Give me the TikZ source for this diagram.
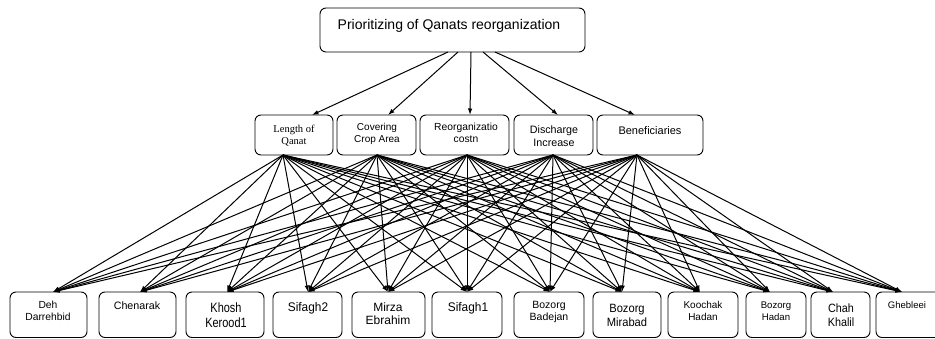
\documentclass[tikz,border=0pt]{standalone}
\usepackage{fontspec}
\setmainfont{Liberation Sans}
\newfontfamily\serifff{Liberation Serif}
\usetikzlibrary{arrows.meta}
\newcommand\fsz[3]{\fontsize{#1}{#2}\selectfont\addfontfeature{FakeStretch=#3}}
\tikzset{
  boxst/.style={draw, rounded corners=6pt, line width=0.9pt, inner sep=0pt},
  lbl/.style={align=center, inner sep=0pt, font=#1},
  arr/.style={line width=1pt, -{Latex[length=6.5pt,width=4.5pt]}}
}
\begin{document}
\begin{tikzpicture}[x=1pt,y=-1pt]
\useasboundingbox (0,0) rectangle (935,339);
\clip (0,0) rectangle (935,339);
% top
\node[boxst, minimum width=265pt, minimum height=44pt] (top) at (452.5,30) {};
\node[lbl={\fsz{14}{16}{1}}] (toptxt) at (449,26) {Prioritizing of Qanats reorganization};
% middle boxes
\node[boxst, minimum width=78pt, minimum height=40pt] (m1) at (294,135) {};
\node[boxst, minimum width=79pt, minimum height=40pt] (m2) at (376.5,135) {};
\node[boxst, minimum width=89pt, minimum height=40pt] (m3) at (464.5,135) {};
\node[boxst, minimum width=79pt, minimum height=40pt] (m4) at (553.5,135) {};
\node[boxst, minimum width=106pt, minimum height=40pt] (m5) at (650,135) {};
\node[lbl={\serifff\fsz{10.5}{12}{1}}] (m1t) at (294,136) {Length of\\Qanat};
\node[lbl={\fsz{10}{11.5}{1}}] (m2t) at (377,134) {Covering\\Crop Area};
\node[lbl={\fsz{10.3}{11.5}{1}}] (m3t) at (466,133) {Reorganizatio\\costn};
\node[lbl={\fsz{10.7}{12.5}{1}}] (m4t) at (554,136) {Discharge\\Increase};
\node[lbl={\fsz{11}{12}{1}}] (m5t) at (650,131) {Beneficiaries};
% bottom boxes
\foreach \n/\xa/\xb in {1/10/87,2/99/176,3/186/264,4/273/342,5/352/425,6/432/502,7/514/584,8/593/661,9/668/738,10/746/806,11/811/870,12/876/945}{
  \node[boxst, minimum width={\xb-\xa}, minimum height=45.5pt] (b\n) at ({(\xa+\xb)/2},314.75) {};
}
\node[lbl={\fsz{10.3}{12}{1}}] (b1t) at (48,311) {Deh\\Darrehbid};
\node[lbl={\fsz{10.7}{12}{1}}] (b2t) at (137,306) {Chenarak};
\node[lbl={\fsz{13.5}{14.5}{0.81}}] (b3t) at (226,315) {Khosh\\Kerood1};
\node[lbl={\fsz{12.5}{13}{0.95}}] (b4t) at (308,308) {Sifagh2};
\node[lbl={\fsz{12}{13}{1}}] (b5t) at (388,314) {Mirza\\Ebrahim};
\node[lbl={\fsz{12.5}{13}{0.95}}] (b6t) at (468,308) {Sifagh1};
\node[lbl={\fsz{10.5}{12}{1}}] (b7t) at (549,312) {Bozorg\\Badejan};
\node[lbl={\fsz{12}{14}{0.93}}] (b8t) at (627,315) {Bozorg\\Mirabad};
\node[lbl={\fsz{10}{11.5}{1}}] (b9t) at (703,311) {Koochak\\Hadan};
\node[lbl={\fsz{9.6}{11.5}{1}}] (b10t) at (776,311) {Bozorg\\Hadan};
\node[lbl={\fsz{12}{14.5}{0.9}}] (b11t) at (841,315) {Chah\\Khalil};
\node[lbl={\fsz{9.5}{11}{1}}] (b12t) at (907,305) {Ghebleei};
% ports
\foreach \i/\x in {1/448,2/458,3/471,4/483,5/495}{\coordinate (ts\i) at (\x,52);}
\foreach \i/\x in {1/312,2/388,3/470,4/558,5/635}{\coordinate (mt\i) at (\x,115);}
\foreach \i/\x in {1/283,2/377,3/467,4/553,5/637}{\coordinate (ms\i) at (\x,155);}
\foreach \j/\x in {1/53,2/140,3/227,4/308,5/388,6/467,7/550,8/622,9/700,10/770,11/833,12/902}{\coordinate (bt\j) at (\x,292);}
% connectors
\foreach \i in {1,...,5}{\draw[arr] (ts\i) -- (mt\i);}
\foreach \i in {1,...,5}{\foreach \j in {1,...,12}{\draw[arr] (ms\i) -- (bt\j);}}
\end{tikzpicture}
\end{document}
